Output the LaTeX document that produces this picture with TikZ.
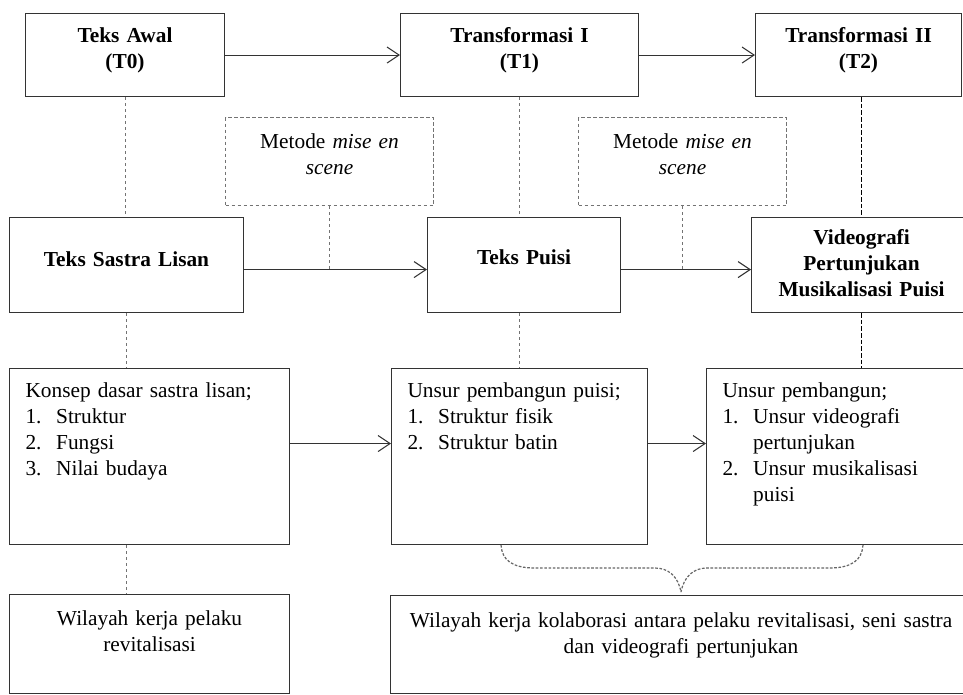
\documentclass[tikz,border=0pt]{standalone}
\usepackage{fontspec}
\setmainfont{Liberation Serif}
\usetikzlibrary{arrows.meta,positioning}
\newcommand\itm[1]{\makebox[23pt][l]{#1}}
\begin{document}
\begin{tikzpicture}[x=0.75pt,y=-0.75pt,
    >={Straight Barb[length=9pt,width=12pt]},
    box/.style={draw=black!80, line width=0.8pt, anchor=north west, inner xsep=4pt, inner ysep=4pt,
        font=\fontsize{16}{19.5}\selectfont},
    hdr/.style={box, font=\fontsize{16}{19.5}\selectfont\bfseries, align=center},
    mise/.style={box, draw=black!55, dash pattern=on 2.5pt off 2pt, align=center,
        text width=148pt, text height=19.25pt, text depth=38.75pt},
    lst/.style={box, align=left, inner xsep=12pt, text height=17.75pt, text depth=106.25pt},
    wil/.style={box, align=center},
    arr/.style={->, draw=black!80, line width=0.8pt},
    dline/.style={draw=black!55, line width=0.8pt, dash pattern=on 2.5pt off 2pt},
    dlinek/.style={draw=black, line width=0.8pt, dash pattern=on 3.5pt off 1.5pt},
    brace/.style={draw=black!60, line width=0.9pt, dash pattern=on 2pt off 1.2pt}]
    \useasboundingbox (0,0) rectangle (963,694);
    %% Transformasi
    \node[hdr, text width=141.25pt, text height=17.75pt, text depth=36.5pt] (t0) at (25,13) {Teks Awal\\(T0)};
    \node[hdr, text width=170.5pt, text height=17.75pt, text depth=36.5pt] (t1) at (400,13) {Transformasi I\\(T1)};
    \node[hdr, text width=146.5pt, text height=17.75pt, text depth=36.5pt] (t2) at (755,13) {Transformasi II\\(T2)};
    \draw[arr] (t0) -- (t1);
    \draw[arr] (t1) -- (t2);
    %% Metode
    \node[mise] (mise1) at (225,117) {Metode \textit{mise en}\\\textit{scene}};
    \node[mise] (mise2) at (578,117) {Metode \textit{mise en}\\\textit{scene}};
    %% Teks
    \node[hdr, text width=167.5pt, text height=32.75pt, text depth=30.5pt] (lisan) at (9,217) {Teks Sastra Lisan};
    \node[hdr, text width=136.75pt, text height=31.5pt, text depth=31.75pt] (puisi) at (427,217) {Teks Puisi};
    \node[hdr, text width=157pt, text height=16.25pt, text depth=47pt] (video) at (751,217)
        {Videografi\\Pertunjukan\\Musikalisasi Puisi};
    \draw[arr] ([yshift=-3.4pt]lisan.east) -- ([yshift=-3.4pt]puisi.west);
    \draw[arr] ([yshift=-3.4pt]puisi.east) -- ([yshift=-3.4pt]video.west);
    \draw[dline] (mise1.south) -- ([yshift=-3.4pt]lisan.east -| mise1.south);
    \draw[dline] (mise2.south) -- ([yshift=-3.4pt]puisi.east -| mise2.south);
    %% Unsur
    \node[lst, text width=186pt] (konsep) at (9,368)
        {Konsep dasar sastra lisan;\\\itm{1.}Struktur\\\itm{2.}Fungsi\\\itm{3.}Nilai budaya};
    \node[lst, text width=168pt] (unsur1) at (391,368)
        {Unsur pembangun puisi;\\\itm{1.}Struktur fisik\\\itm{2.}Struktur batin};
    \node[lst, text width=172.5pt] (unsur2) at (706,368)
        {Unsur pembangun;\\\itm{1.}Unsur videografi\\\itm{}pertunjukan\\\itm{2.}Unsur musikalisasi\\\itm{}puisi};
    \draw[arr] ([yshift=9.75pt]konsep.east) -- ([yshift=9.75pt]unsur1.west);
    \draw[arr] ([yshift=9.75pt]unsur1.east) -- ([yshift=9.75pt]unsur2.west);
    %% Wilayah kerja
    \node[wil, text width=202pt, text height=19.25pt, text depth=47pt] (wil1) at (9,594)
        {Wilayah kerja pelaku\\revitalisasi};
    \node[wil, text width=427.75pt, text height=20pt, text depth=45.5pt] (wil2) at (390,595)
        {Wilayah kerja kolaborasi antara pelaku revitalisasi, seni sastra\\dan videografi pertunjukan};
    %% Dashed links
    \draw[dline] (t0.south) -- (t0.south |- lisan.north);
    \draw[dline] (t1.south) -- (t1.south |- puisi.north);
    \draw[dlinek] (t2.south -| video.north) -- (video.north);
    \draw[dline] (lisan.south) -- (lisan.south |- konsep.north);
    \draw[dline] (t1.south |- puisi.south) -- (t1.south |- unsur1.north);
    \draw[dlinek] (video.south) -- (video.south |- unsur2.north);
    \draw[dline] (lisan.south |- konsep.south) -- (lisan.south |- wil1.north);
    %% Brace
    \coordinate (bl) at (501,545);
    \coordinate (br) at (863,545);
    \coordinate (tip) at (681,592);
    \draw[brace] (bl) .. controls (502,560) and (512,568) .. (535,568) -- (655,568)
        .. controls (668,568) and (678,576) .. (tip);
    \draw[brace] (br) .. controls (862,560) and (852,568) .. (829,568) -- (707,568)
        .. controls (694,568) and (684,576) .. (tip);
\end{tikzpicture}
\end{document}
